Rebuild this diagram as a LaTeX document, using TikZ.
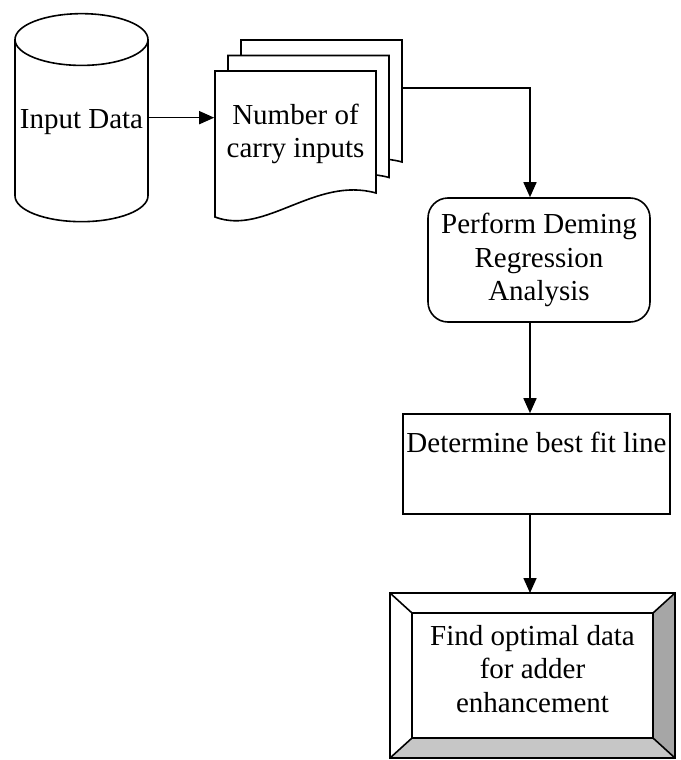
\documentclass[tikz,border=0pt]{standalone}
\usepackage{fontspec}
\setmainfont{Liberation Serif}
\usetikzlibrary{shapes.geometric,arrows.meta,calc}

\begin{document}
\begin{tikzpicture}[x=1pt,y=-1pt,line width=1.6pt,
    every node/.style={font=\fontsize{29}{33.5}\selectfont,align=center,inner sep=0pt},
    flow/.style={-{Triangle[length=15pt,width=13pt]}},
    database/.style={draw,shape=cylinder,shape border rotate=90,aspect=0.42,minimum width=133pt,minimum height=208pt,text height=20pt,text depth=26pt},
    process/.style={draw,rounded corners=20pt,minimum width=222pt,minimum height=124pt},
    plainbox/.style={draw,minimum width=267pt,minimum height=100pt,text height=20pt,text depth=44pt},
    bevelbox/.style={minimum width=285pt,minimum height=165pt,outer sep=0pt}]
    \useasboundingbox (0,0) rectangle (680,760);

    % pages of the stack, back one first
    \foreach \k in {2,1,0}
        \draw[fill=white,shift={(215+13*\k,71-15.5*\k)}] (0,0) -- (161,0) -- (161,122)
            .. controls (100,105) and (50,165) .. (0,146) -- cycle;

    \node[database] (input) at (81.5,131) {Input Data};
    \node[minimum width=161pt] (carry) at (295.5,134) {Number of\\carry inputs};
    \coordinate (stackout) at (401,88);
    \coordinate (spine) at (530,0);

    \node[process] (deming) at (539,260) {Perform Deming\\Regression\\Analysis};
    \node[plainbox] (fitline) at (536.5,464) {Determine best fit line};
    \node[bevelbox] (finddata) at (532.5,675.5) {};

    \coordinate (in-nw) at ($(finddata.north west)+(22,20)$);
    \coordinate (in-ne) at ($(finddata.north east)+(-22,20)$);
    \coordinate (in-se) at ($(finddata.south east)+(-22,-20)$);
    \coordinate (in-sw) at ($(finddata.south west)+(22,-20)$);
    \fill[gray!70] (finddata.north east) -- (finddata.south east) -- (in-se) -- (in-ne) -- cycle;
    \fill[gray!45] (finddata.south west) -- (finddata.south east) -- (in-se) -- (in-sw) -- cycle;
    \draw (in-nw) rectangle (in-se);
    \draw (finddata.north west) -- (in-nw) (finddata.north east) -- (in-ne)
        (finddata.south east) -- (in-se) (finddata.south west) -- (in-sw);
    \draw (finddata.north west) rectangle (finddata.south east);
    \node (findtext) at ($(finddata.center)+(0,-6.5)$) {Find optimal data\\for adder\\enhancement};

    \draw[flow] (input.shape center -| input.east) -- (input.shape center -| carry.west);
    \draw[flow] (stackout) -| (deming.north -| spine);
    \draw[flow] (deming.south -| spine) -- (fitline.north -| spine);
    \draw[flow] (fitline.south -| spine) -- (finddata.north -| spine);
  \end{tikzpicture}
\end{document}
